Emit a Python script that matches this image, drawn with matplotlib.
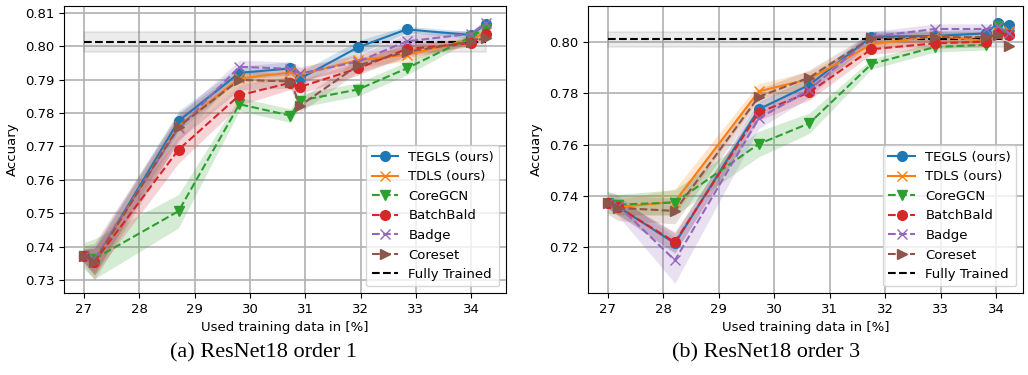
import matplotlib
matplotlib.use("Agg")
import matplotlib.pyplot as plt
import numpy as np

methods = ["TEGLS (ours)", "TDLS (ours)", "CoreGCN", "BatchBald", "Badge", "Coreset"]
colors = ["tab:blue", "tab:orange", "tab:green", "tab:red", "tab:purple", "tab:brown"]
markers = ["o", "x", "v", "o", "x", ">"]
styles = ["-", "-", "--", "--", "--", "--"]

# (a) ResNet18 order 1
x_a = [27.0, 27.19, 28.71, 29.81, 30.73, 30.91, 31.95, 32.83, 34.0, 34.26]
tegls_a = [0.7372, 0.7355, 0.7776, 0.7920, 0.7933, 0.7903, 0.7996, 0.8050, 0.8033, 0.8067]
tdls_a = [0.7372, 0.7355, 0.7760, 0.7903, 0.7921, 0.7915, 0.7958, 0.7974, 0.8020, 0.8042]
coregcn_a = [0.7372, 0.7363, 0.7506, 0.7826, 0.7792, 0.7837, 0.7870, 0.7933, 0.8028, 0.8052]
batchbald_a = [0.7372, 0.7355, 0.7690, 0.7853, 0.7890, 0.7878, 0.7933, 0.7991, 0.8009, 0.8037]
badge_a = [0.7372, 0.7362, 0.7754, 0.7938, 0.7932, 0.7918, 0.7953, 0.8014, 0.8037, 0.8069]
coreset_a = [0.7372, 0.7355, 0.7759, 0.7899, 0.7894, 0.7822, 0.7942, 0.7983, 0.8013, 0.8025]
std_a = [
    [0.002, 0.004, 0.003, 0.002, 0.002, 0.002, 0.002, 0.001, 0.001, 0.001],
    [0.002, 0.004, 0.003, 0.002, 0.002, 0.002, 0.002, 0.002, 0.001, 0.001],
    [0.004, 0.006, 0.005, 0.002, 0.002, 0.002, 0.002, 0.002, 0.001, 0.001],
    [0.002, 0.004, 0.004, 0.003, 0.002, 0.002, 0.002, 0.002, 0.001, 0.001],
    [0.002, 0.004, 0.004, 0.002, 0.002, 0.002, 0.002, 0.002, 0.001, 0.001],
    [0.003, 0.0055, 0.004, 0.003, 0.002, 0.002, 0.002, 0.002, 0.001, 0.001],
]
full_a, full_std_a = 0.8012, 0.003

# (b) ResNet18 order 3
x_b = [27.0, 27.19, 28.21, 29.72, 30.63, 31.75, 32.9, 33.82, 34.03, 34.22]
tegls_b = [0.7372, 0.7356, 0.7213, 0.7738, 0.7833, 0.8022, 0.8025, 0.8035, 0.8076, 0.8068]
tdls_b = [0.7372, 0.7355, 0.7376, 0.7808, 0.7856, 0.7992, 0.8025, 0.8005, 0.8040, 0.8045]
coregcn_b = [0.7372, 0.7365, 0.7373, 0.7602, 0.7683, 0.7915, 0.7982, 0.7990, 0.8065, 0.8030]
batchbald_b = [0.7372, 0.7355, 0.7218, 0.7725, 0.7804, 0.7973, 0.7996, 0.8003, 0.8038, 0.8028]
badge_b = [0.7372, 0.7360, 0.7147, 0.7702, 0.7814, 0.8022, 0.8052, 0.8052, 0.8062, 0.8035]
coreset_b = [0.7372, 0.7352, 0.7340, 0.7787, 0.7862, 0.8018, 0.8020, 0.8020, 0.8030, 0.7987]
std_b = [
    [0.002, 0.003, 0.004, 0.003, 0.003, 0.002, 0.002, 0.002, 0.001, 0.001],
    [0.002, 0.003, 0.005, 0.003, 0.003, 0.002, 0.002, 0.002, 0.001, 0.001],
    [0.004, 0.004, 0.005, 0.005, 0.004, 0.002, 0.002, 0.002, 0.001, 0.001],
    [0.002, 0.003, 0.004, 0.003, 0.003, 0.002, 0.002, 0.002, 0.001, 0.001],
    [0.002, 0.004, 0.009, 0.004, 0.003, 0.002, 0.002, 0.002, 0.001, 0.001],
    [0.0045, 0.005, 0.005, 0.003, 0.003, 0.002, 0.002, 0.002, 0.001, 0.001],
]
full_b, full_std_b = 0.8012, 0.003

fig = plt.figure(figsize=(10.28, 3.75), dpi=100)
ax1 = fig.add_axes([0.0623, 0.2187, 0.43, 0.7653])
ax2 = fig.add_axes([0.572, 0.2187, 0.4232, 0.7653])


def draw(ax, x, series, stds, full, full_std):
    x = np.array(x)
    for i, (name, y) in enumerate(zip(methods, series)):
        y = np.array(y)
        s = np.array(stds[i])
        ax.fill_between(x, y - s, y + s, color=colors[i], alpha=0.2, linewidth=0, zorder=2)
        ax.plot(x, y, linestyle=styles[i], marker=markers[i], color=colors[i],
                markersize=7, linewidth=1.5, label=name, zorder=3)
    ax.fill_between([x[0], x[-1]], full - full_std, full + full_std,
                    color="gray", alpha=0.15, linewidth=1.5, zorder=1)
    ax.plot([x[0], x[-1]], [full, full], "k--", linewidth=1.5, label="Fully Trained", zorder=2.5)
    ax.grid(True, color="#b0b0b0", linewidth=1.2)
    ax.set_axisbelow(True)
    ax.set_xlabel("Used training data in [%]", fontsize=9.5)
    ax.set_ylabel("Accuary", fontsize=9.5)
    ax.tick_params(labelsize=9.5)
    ax.legend(loc="lower right", fontsize=9.5, framealpha=0.8)


draw(ax1, x_a, [tegls_a, tdls_a, coregcn_a, batchbald_a, badge_a, coreset_a], std_a, full_a, full_std_a)
draw(ax2, x_b, [tegls_b, tdls_b, coregcn_b, batchbald_b, badge_b, coreset_b], std_b, full_b, full_std_b)

ax1.set_xlim(26.64, 34.63)
ax1.set_ylim(0.7261, 0.812)
ax1.set_xticks(range(27, 35))
ax1.set_yticks(np.arange(0.73, 0.8101, 0.01))
ax2.set_xlim(26.645, 34.48)
ax2.set_ylim(0.7019, 0.8142)
ax2.set_xticks(range(27, 35))
ax2.set_yticks(np.arange(0.72, 0.8001, 0.02))

fig.text(0.256, 0.058, "(a) ResNet18 order 1", ha="center", va="center",
         fontsize=16, family="Liberation Serif")
fig.text(0.745, 0.058, "(b) ResNet18 order 3", ha="center", va="center",
         fontsize=16, family="Liberation Serif")

fig.savefig("out.png", dpi=100)
